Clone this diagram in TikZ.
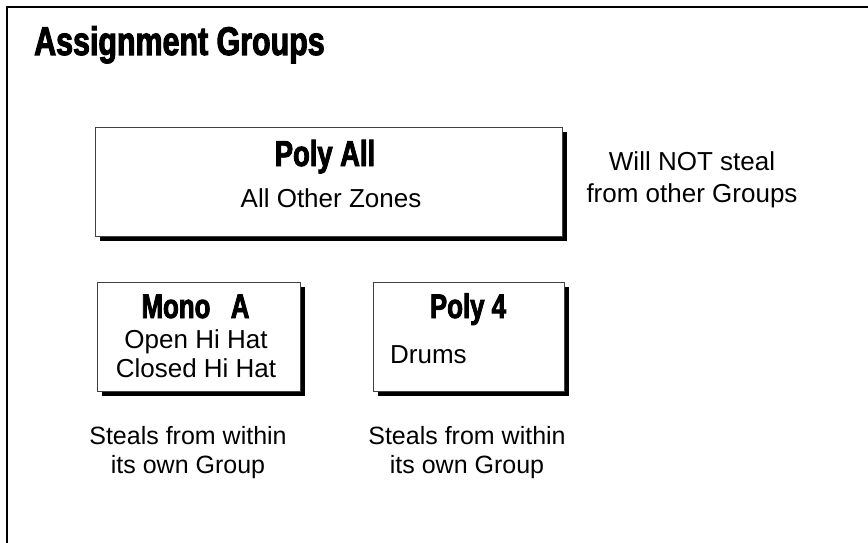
\documentclass[tikz,border=0pt]{standalone}
\usepackage{fontspec}
\setmainfont{Liberation Sans}
\newfontfamily\headfont{Liberation Sans}[UprightFont=* Bold, FakeStretch=0.76, FakeBold=2.5]
\usetikzlibrary{shadows}

\begin{document}
\begin{tikzpicture}[x=1pt, y=-1pt, every node/.style={align=center, inner sep=0pt},
  groupbox/.style={draw=black!75, line width=1pt, fill=white, inner sep=0pt,
    drop shadow={shadow xshift=5pt, shadow yshift=-5pt, opacity=1, fill=black}},
  headtext/.style={font=\headfont\fontsize{#1}{#1}\selectfont, anchor=base},
  bodytext/.style={font=\fontsize{26}{28}\selectfont, anchor=base},
  notetext/.style={font=\fontsize{25}{29}\selectfont, anchor=base}]
\useasboundingbox (0,0) rectangle (868,543);
% frame
\draw[line width=2pt] (7,543) -- (7,7) -- (868,7);
\node[headtext=40, anchor=base west] (title) at (34,55) {Assignment Groups};
% groups
\node[groupbox, minimum width=467pt, minimum height=109pt] (polyall) at (328.5,181.5) {};
\node[headtext=36] (polyallhead) at (325,166) {Poly All};
\node[bodytext] (polyallzones) at (331,207) {All Other Zones};
\node[groupbox, minimum width=203pt, minimum height=109pt] (monoa) at (198.5,336.5) {};
\node[headtext=34] (monoahead) at (195.5,318) {Mono\hspace{0.6em}A};
\node[bodytext] (openhat) at (196,348) {Open Hi Hat};
\node[bodytext] (closedhat) at (196,377) {Closed Hi Hat};
\node[groupbox, minimum width=191pt, minimum height=109pt] (polyfour) at (468.5,336.5) {};
\node[headtext=34] (polyfourhead) at (468,318) {Poly 4};
\node[bodytext, anchor=base west] (drums) at (390,363) {Drums};
% notes
\node[bodytext, font=\fontsize{26}{32}\selectfont] (nosteal) at (692,202) {Will NOT steal\\from other Groups};
\node[notetext] (stealsmono) at (188,473) {Steals from within\\its own Group};
\node[notetext] (stealspoly) at (467,473) {Steals from within\\its own Group};
\end{tikzpicture}
\end{document}
